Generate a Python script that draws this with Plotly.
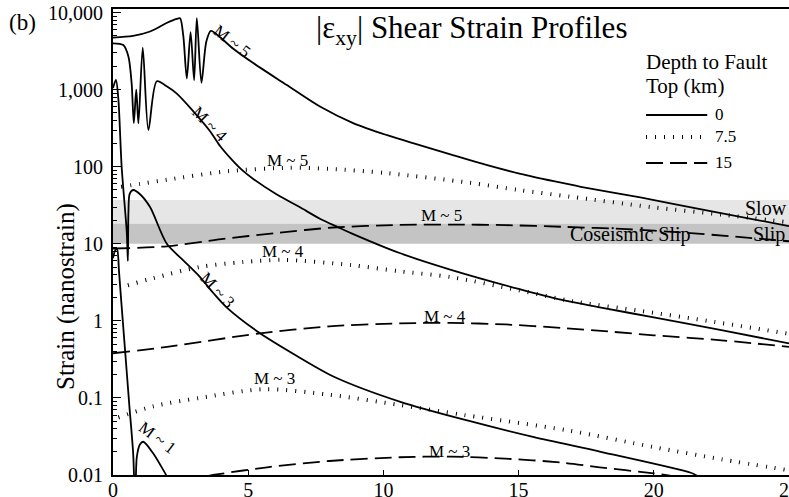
import math
import plotly.graph_objects as go

# ---------------- data ----------------
# distance along profile (km) and |exy| shear strain (nanostrain)
# depth to fault top = 0 km (solid)
m5_d0_x = [0, 0.74, 1.37, 2.0, 2.36, 2.48, 2.6, 2.73, 2.87, 3.0, 3.1, 3.27, 3.45, 3.62,
           3.96, 4.45, 5.2, 6.43, 7.67, 8.9, 10.14, 11.37, 12.6, 13.84, 15.07, 16.3,
           17.3, 19.5, 22, 25]
m5_d0_y = [4750, 5000, 5700, 7400, 8300, 8450, 5000, 1400, 5600, 1330, 8500, 1230, 4200, 5800,
           4800, 3400, 2200, 1150, 600, 366, 257, 190, 141, 105, 81, 65,
           55, 40, 27, 17]

m4_d0_x = [0, 0.38, 0.57, 0.69, 0.77, 0.86, 0.94, 1.10, 1.31, 1.62, 2.0, 2.36, 2.97, 3.59,
           3.96, 4.4, 4.8, 5.2, 6.0, 6.9, 7.67, 8.3, 8.8, 10.6, 12.5, 15, 16.6, 18, 20, 22.5, 25]
m4_d0_y = [4000, 3800, 2700, 1200, 370, 1000, 365, 3530, 300, 1290, 1100, 890, 525, 290,
           186, 123, 89, 69, 45, 30, 21, 16.6, 13.8, 7.6, 4.6, 2.6, 1.87, 1.5, 1.11, 0.76, 0.51]

m3_d0_x = [0, 0.11, 0.2, 0.32, 0.51, 0.55, 0.57, 0.62, 0.75, 1.0, 1.37, 1.99, 2.6, 3.22,
           3.71, 4.2, 5.44, 6.8, 8.15, 10.63, 13.1, 15.57, 18.04, 21.37, 21.6]
m3_d0_y = [1050, 1340, 740, 100, 14, 6, 25, 45, 50, 44, 30, 10, 6.1, 3.7,
           2.3, 1.5, 0.69, 0.35, 0.19, 0.089, 0.051, 0.031, 0.020, 0.0107, 0.0098]

m1_d0_x = [0, 0.08, 0.15, 0.22, 0.3, 0.45, 0.6, 0.75, 0.82, 0.88, 1.0, 1.12, 1.49, 1.93, 2.0]
m1_d0_y = [6.5, 8.2, 8.5, 4.5, 1.9, 0.4, 0.083, 0.018, 0.003, 0.017, 0.025, 0.027, 0.019, 0.0105, 0.0095]

# depth to fault top = 7.5 km (dotted)
m5_d75_x = [0.3, 1.0, 2.0, 4.3, 6.5, 8.0, 10.1, 13.2, 15, 16.9, 19.9, 22.5, 25]
m5_d75_y = [55, 60, 68, 88, 97, 94, 83, 62, 50, 41, 30, 24, 19]

m4_d75_x = [0.55, 1.5, 3.2, 4.8, 6.3, 8.8, 10.6, 12.5, 15, 17, 19.5, 22, 25]
m4_d75_y = [2.9, 3.6, 5.0, 5.8, 6.2, 5.3, 4.4, 3.7, 2.5, 1.8, 1.35, 1.0, 0.68]

m3_d75_x = [0.2, 1.5, 3.2, 5.6, 8, 10.6, 13, 16.8, 20, 22.5, 25]
m3_d75_y = [0.056, 0.078, 0.10, 0.13, 0.11, 0.081, 0.06, 0.038, 0.023, 0.016, 0.0115]

# depth to fault top = 15 km (dashed)
m5_d15_x = [0, 2, 4, 6, 8.15, 10.6, 12.5, 14.5, 16.7, 19, 21.1, 23, 25]
m5_d15_y = [8.7, 9.3, 11.5, 13.8, 16.3, 17.6, 17.8, 17.5, 16.6, 15.5, 14.0, 12.4, 10.8]

m4_d15_x = [0, 2, 5.44, 8, 10.6, 12.5, 14.5, 16.6, 18.5, 20, 22.5, 25]
m4_d15_y = [0.38, 0.46, 0.69, 0.85, 0.93, 0.94, 0.90, 0.81, 0.72, 0.65, 0.56, 0.46]

m3_d15_x = [3.5, 3.7, 5.7, 8, 10.6, 12.5, 14.5, 16.6, 18, 20, 20.6]
m3_d15_y = [0.0097, 0.0100, 0.0126, 0.0152, 0.0170, 0.0173, 0.0163, 0.0145, 0.0126, 0.0105, 0.0098]

# shaded strain ranges (nanostrain)
slow_slip_range = [18.2, 37]
coseismic_range = [10, 18.2]

# axes
x_range = [0, 25]
x_ticks = [0, 5, 10, 15, 20, 25]
y_ticks = [0.01, 0.1, 1, 10, 100, 1000, 10000]
y_tick_labels = ["0.01", "0.1", "1", "10", "100", "1,000", "10,000"]
depth_labels = ["0", "7.5", "15"]

# ---------------- styling ----------------
SERIF = "Liberation Serif, Times New Roman, serif"
DASH = {"0": "solid", "7.5": "1px,8px", "15": "17px,7px"}
WIDTH = {"0": 1.8, "7.5": 4, "15": 1.8}

fig = go.Figure()


def band(lo, hi, color):
    fig.add_trace(go.Scatter(
        x=[x_range[0], x_range[1], x_range[1], x_range[0], x_range[0]],
        y=[lo, lo, hi, hi, lo], mode="lines", fill="toself", fillcolor=color,
        line=dict(width=0), hoverinfo="skip", showlegend=False))


band(slow_slip_range[0], slow_slip_range[1], "#e6e6e6")
band(coseismic_range[0], coseismic_range[1], "#c4c4c4")

curves = [
    (m5_d0_x, m5_d0_y, "0"), (m4_d0_x, m4_d0_y, "0"), (m3_d0_x, m3_d0_y, "0"), (m1_d0_x, m1_d0_y, "0"),
    (m5_d75_x, m5_d75_y, "7.5"), (m4_d75_x, m4_d75_y, "7.5"), (m3_d75_x, m3_d75_y, "7.5"),
    (m5_d15_x, m5_d15_y, "15"), (m4_d15_x, m4_d15_y, "15"), (m3_d15_x, m3_d15_y, "15"),
]
for xs, ys, d in curves:
    fig.add_trace(go.Scatter(
        x=xs, y=ys, mode="lines",
        line=dict(color="black", width=WIDTH[d], dash=DASH[d], shape="spline", smoothing=0.8),
        hoverinfo="skip", showlegend=False))

annotations = []


def txt(text, x, y, size, xref="paper", yref="paper", xanchor="center", yanchor="middle", angle=0):
    annotations.append(dict(text=text, x=x, y=y, xref=xref, yref=yref, xanchor=xanchor,
                            yanchor=yanchor, textangle=angle, showarrow=False,
                            font=dict(family=SERIF, size=size, color="black")))


# magnitude labels (x in km, y in log10 nanostrain)
mag_labels = [
    ("M ~ 5", 4.40, 3.62, 38), ("M ~ 4", 3.59, 2.555, 45), ("M ~ 3", 3.88, 0.40, 47),
    ("M ~ 1", 1.63, -1.51, 37),
    ("M ~ 5", 6.47, 2.085, 0), ("M ~ 4", 6.29, 0.903, 0), ("M ~ 3", 5.99, -0.746, 0),
    ("M ~ 5", 12.13, 1.37, 0), ("M ~ 4", 12.28, 0.06, 0), ("M ~ 3", 12.46, -1.69, 0),
]
for t, x, y, a in mag_labels:
    txt(t, x, y, 17, xref="x", yref="y", angle=a)

txt("|ε<sub>xy</sub>| Shear Strain Profiles", 0.53, 0.955, 31)
txt("(b)", -0.157, 0.970, 23, xanchor="left")
txt("Strain (nanostrain)", -0.0695, 0.382, 25, angle=-90)
txt("Slow", 1.0, 0.573, 20, xanchor="right")
txt("Slip", 0.997, 0.517, 20, xanchor="right")
txt("Coseismic Slip", 0.765, 0.517, 20)

# legend (manual)
txt("Depth to Fault", 0.785, 0.886, 21, xanchor="left")
txt("Top (km)", 0.785, 0.834, 21, xanchor="left")
shapes = []
leg_y = [0.7725, 0.7253, 0.6695]
for lab, ly in zip(depth_labels, leg_y):
    shapes.append(dict(type="line", xref="paper", yref="paper", x0=0.7885, x1=0.879, y0=ly, y1=ly,
                       line=dict(color="black", width=WIDTH[lab], dash=DASH[lab])))
    txt(lab, 0.8876, ly + 0.002, 17, xanchor="left")

fig.update_layout(
    width=789, height=497,
    margin=dict(l=113, r=0, t=9, b=22, autoexpand=False),
    paper_bgcolor="white", plot_bgcolor="white",
    showlegend=False,
    annotations=annotations, shapes=shapes,
    xaxis=dict(range=x_range, tickvals=x_ticks, ticks="inside", ticklen=5, tickwidth=1,
               tickcolor="black", showline=True, linecolor="black", linewidth=2, mirror=True,
               showgrid=False, zeroline=False, ticklabeloverflow="allow", ticklabelstandoff=-4,
               automargin=False,
               tickfont=dict(family=SERIF, size=20, color="black")),
    yaxis=dict(type="log", range=[-2, 4.048], tickvals=y_ticks, ticktext=y_tick_labels,
               ticks="inside", ticklen=8, tickwidth=1, tickcolor="black",
               showline=True, linecolor="black", linewidth=2, mirror=False,
               showgrid=False, zeroline=False, ticklabelstandoff=4, automargin=False,
               tickfont=dict(family=SERIF, size=20, color="black"),
               minor=dict(ticks="inside", ticklen=4, tickwidth=1, tickcolor="black", showgrid=False,
                          tickvals=[m * 10 ** e for e in range(-2, 4) for m in range(2, 10)])),
)

fig.write_html("out.html", config={"displayModeBar": False},
               post_script="document.body.style.margin='0px';")
